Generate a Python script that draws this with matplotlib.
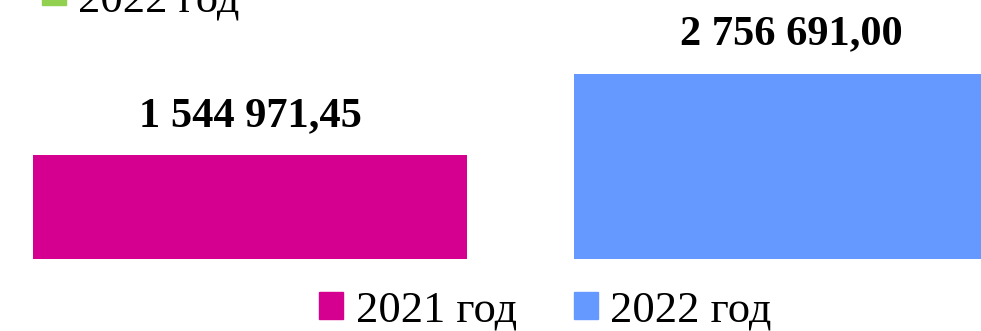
import matplotlib.pyplot as plt
from matplotlib.patches import Rectangle

plt.rcParams['font.family'] = ['Liberation Serif', 'DejaVu Serif']

# Values per year
years = ['2021 год', '2022 год']
values = [1544971.45, 2756691.00]
value_labels = ['1 544 971,45', '2 756 691,00']
colors = ['#D50090', '#6699FF']

# leftover legend entry of the chart above
top_label = '2022 год'
top_color = '#92D050'

fig = plt.figure(figsize=(9.81, 3.31), dpi=100)
ax = fig.add_axes([0, 72.5 / 331, 1, 258.5 / 331])

bars = ax.bar(range(len(values)), values, width=0.802, color=colors, label=years)
for i, (v, lab) in enumerate(zip(values, value_labels)):
    ax.annotate(lab, (i, v), xytext=(0, 21), textcoords='offset points',
                ha='center', va='baseline', fontsize=30.5, fontweight='bold')

ax.set_xlim(-250 / 541, 731 / 541)
ax.set_ylim(0, 258.5 / 103.5 * values[0])
ax.axis('off')

handles = [Rectangle((0, 0), 1, 1, color=c) for c in colors]
fig.legend(handles, years, loc='lower center', bbox_to_anchor=(0.556, -0.092),
           ncol=2, frameon=False, fontsize=32, handlelength=0.54, handleheight=0.54,
           handletextpad=0.28, columnspacing=1.28, borderpad=0.2)

# partial legend at the top edge
fig.patches.append(Rectangle((42 / 981, 1 - 5 / 331), 24 / 981, 24 / 331,
                             color=top_color, transform=fig.transFigure))
fig.text(78 / 981, 1 - 11 / 331, top_label, fontsize=32, va='baseline')

fig.savefig('out.png', dpi=100)
